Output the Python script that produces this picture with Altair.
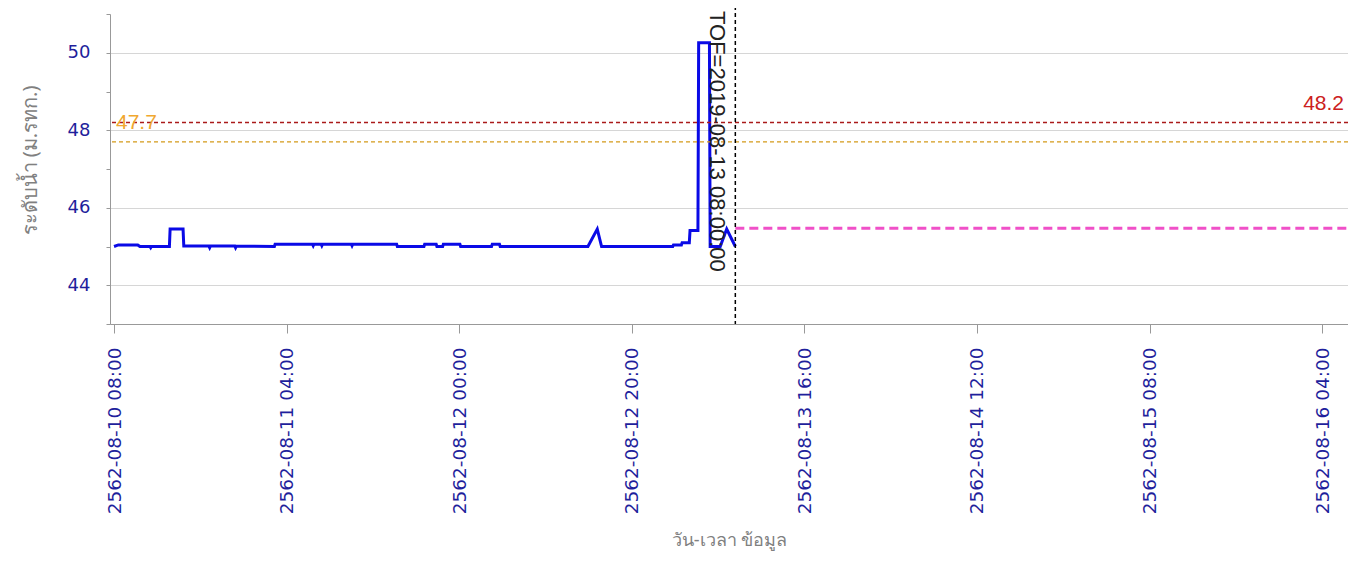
import altair as alt
import pandas as pd

# ---------------- data ----------------
OBS_TIMES = [
    "2019-08-10T08:00", "2019-08-10T08:30", "2019-08-10T10:45", "2019-08-10T11:00",
    "2019-08-10T12:10", "2019-08-10T12:15", "2019-08-10T12:20", "2019-08-10T14:25",
    "2019-08-10T14:30", "2019-08-10T16:00", "2019-08-10T16:05", "2019-08-10T19:00",
    "2019-08-10T19:05", "2019-08-10T19:10", "2019-08-10T22:00", "2019-08-10T22:05",
    "2019-08-10T22:10", "2019-08-11T02:35", "2019-08-11T02:40", "2019-08-11T07:00",
    "2019-08-11T07:05", "2019-08-11T07:10", "2019-08-11T08:00", "2019-08-11T08:05",
    "2019-08-11T08:10", "2019-08-11T11:30", "2019-08-11T11:35", "2019-08-11T11:40",
    "2019-08-11T16:45", "2019-08-11T16:50", "2019-08-11T19:55", "2019-08-11T20:00",
    "2019-08-11T21:20", "2019-08-11T21:25", "2019-08-11T22:05", "2019-08-11T22:10",
    "2019-08-12T00:05", "2019-08-12T00:10", "2019-08-12T03:45", "2019-08-12T03:50",
    "2019-08-12T04:40", "2019-08-12T04:45", "2019-08-12T14:55", "2019-08-12T16:00",
    "2019-08-12T16:30", "2019-08-13T00:45", "2019-08-13T00:50", "2019-08-13T01:45",
    "2019-08-13T01:50", "2019-08-13T02:40", "2019-08-13T02:45", "2019-08-13T03:40",
    "2019-08-13T03:45", "2019-08-13T05:00", "2019-08-13T05:05", "2019-08-13T06:15",
    "2019-08-13T07:00", "2019-08-13T08:00",
]
OBS_LEVELS = [
    45.00, 45.04, 45.04, 45.00,
    45.00, 44.97, 45.00, 45.00,
    45.45, 45.45, 45.01, 45.01,
    44.97, 45.01, 45.01, 44.97,
    45.01, 45.00, 45.06, 45.06,
    45.02, 45.06, 45.06, 45.02,
    45.06, 45.06, 45.02, 45.06,
    45.06, 45.00, 45.00, 45.06,
    45.06, 45.00, 45.00, 45.06,
    45.06, 45.00, 45.00, 45.06,
    45.06, 45.00, 45.00, 45.45,
    45.00, 45.00, 45.04, 45.04,
    45.10, 45.10, 45.41, 45.41,
    50.26, 50.26, 45.00, 45.00,
    45.45, 45.00,
]

FC_TIMES = ["2019-08-13T08:00", "2019-08-16T07:00"]
FC_LEVELS = [45.47, 45.47]

THRESH_VALUES = [48.2, 47.7]
THRESH_LABELS = ["48.2", "47.7"]

TOF_TIME = ["2019-08-13T08:00"]
TOF_TEXT = ["TOF=2019-08-13 08:00:00"]

X_TICK_TIMES = [
    "2019-08-10T08:00", "2019-08-11T04:00", "2019-08-12T00:00", "2019-08-12T20:00",
    "2019-08-13T16:00", "2019-08-14T12:00", "2019-08-15T08:00", "2019-08-16T04:00",
]
X_DOMAIN = ["2019-08-10T07:32", "2019-08-16T07:00"]
Y_TICKS = [43, 44, 45, 46, 47, 48, 49, 50, 51]
Y_DOMAIN = [43, 51]

Y_TITLE = "ระดับน้ำ (ม.รทก.)"
X_TITLE = "วัน-เวลา ข้อมูล"


def dt(s):
    t = pd.Timestamp(s)
    return alt.DateTime(year=t.year, month=t.month, date=t.day, hours=t.hour, minutes=t.minute)


W, H = 1238, 310
LABEL_COLOR = "#1f1f9c"
TITLE_COLOR = "#808080"
AXIS_COLOR = "#999999"

obs = pd.DataFrame({"time": OBS_TIMES, "level": OBS_LEVELS})
fc = pd.DataFrame({"time": FC_TIMES, "level": FC_LEVELS})
red_df = pd.DataFrame({"level": [THRESH_VALUES[0]], "label": [THRESH_LABELS[0]]})
org_df = pd.DataFrame({"level": [THRESH_VALUES[1]], "label": [THRESH_LABELS[1]]})
tof = pd.DataFrame({"time": TOF_TIME, "text": TOF_TEXT})

x_scale = alt.Scale(domain=[dt(X_DOMAIN[0]), dt(X_DOMAIN[1])], nice=False)
y_scale = alt.Scale(domain=Y_DOMAIN, nice=False, zero=False)

x_axis = alt.Axis(
    values=[dt(s) for s in X_TICK_TIMES],
    format="2562-%m-%d %H:%M",
    labelAngle=-90,
    labelFont="DejaVu Sans",
    labelFontSize=18.5,
    labelColor=LABEL_COLOR,
    labelPadding=14,
    tickSize=9,
    tickColor=AXIS_COLOR,
    domainColor=AXIS_COLOR,
    grid=False,
    title=X_TITLE,
    titleFont="Noto Sans",
    titleFontSize=18,
    titleFontWeight="normal",
    titleColor=TITLE_COLOR,
    titleY=216,
    titleBaseline="middle",
    labelOverlap=False,
)

y_axis = alt.Axis(
    values=Y_TICKS,
    labelExpr="datum.value % 2 == 0 ? datum.label : ''",
    labelFont="DejaVu Sans",
    labelFontSize=18,
    labelColor=LABEL_COLOR,
    labelPadding=16,
    tickSize=4,
    tickColor=AXIS_COLOR,
    domainColor=AXIS_COLOR,
    grid=True,
    gridColor="#d6d6d6",
    gridOpacity=alt.condition("datum.value % 2 == 0", alt.value(1), alt.value(0)),
    title=Y_TITLE,
    titleFont="Noto Sans",
    titleFontSize=20,
    titleFontWeight="normal",
    titleColor=TITLE_COLOR,
    titleX=-80,
    titleY=146,
    titleBaseline="middle",
    labelOverlap=False,
)

X = alt.X("time:T", scale=x_scale, axis=x_axis, title=X_TITLE)
Y = alt.Y("level:Q", scale=y_scale, axis=y_axis, title=Y_TITLE)

obs_line = alt.Chart(obs).mark_line(color="#0a0ae6", strokeWidth=3, clip=True).encode(x=X, y=Y)

fc_line = alt.Chart(fc).mark_line(color="#f050c8", strokeWidth=3, strokeDash=[9, 5], clip=True).encode(x=X, y=Y)

red_rule = alt.Chart(red_df).mark_rule(color="#aa1a1a", strokeWidth=1.3, strokeDash=[4, 3]).encode(y=Y)
org_rule = alt.Chart(org_df).mark_rule(color="#d49a1a", strokeWidth=1.3, strokeDash=[4, 3]).encode(y=Y)

red_text = alt.Chart(red_df).mark_text(
    align="right", baseline="middle", dy=-19, font="Liberation Sans", fontSize=21, color="#cc2020"
).encode(x=alt.value(W - 4), y=Y, text="label:N")
org_text = alt.Chart(org_df).mark_text(
    align="left", baseline="middle", dy=-19, font="Liberation Sans", fontSize=21, color="#f0a830"
).encode(x=alt.value(6), y=Y, text="label:N")

tof_rule = alt.Chart(tof).mark_rule(color="#000000", strokeWidth=1.5, strokeDash=[4, 3]).encode(
    x=X, y=alt.value(-8), y2=alt.value(H),
)
tof_text = alt.Chart(tof).mark_text(
    angle=90, align="left", baseline="top", dy=8, font="Liberation Sans", fontSize=22, color="#222222"
).encode(x=X, y=alt.value(-3), text="text:N")

chart = alt.layer(
    obs_line, red_rule, org_rule, fc_line, tof_rule, tof_text, red_text, org_text
).properties(
    width=W,
    height=H,
    autosize=alt.AutoSizeParams(type="none"),
    padding={"left": 102, "top": 6, "right": 0, "bottom": 230},
    background="white",
).configure_view(stroke=None)

chart.save("out.html", embed_options={"renderer": "svg", "actions": False})
